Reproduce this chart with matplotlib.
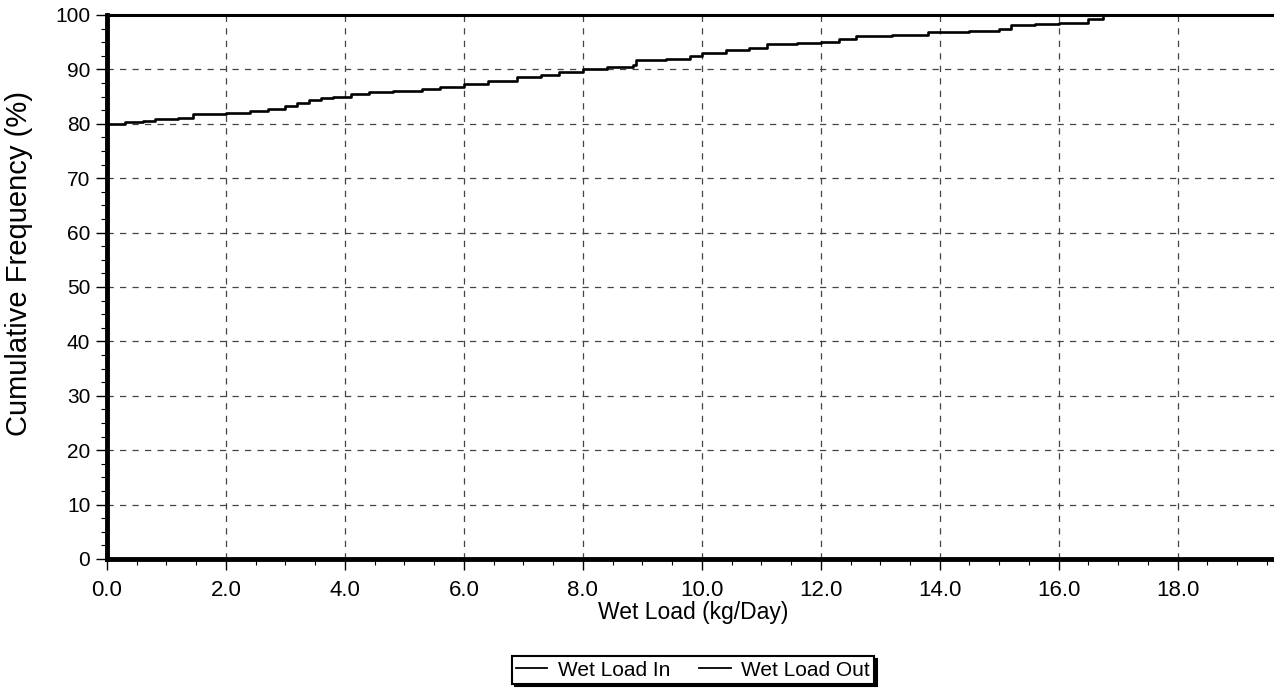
import matplotlib
matplotlib.use("Agg")
import matplotlib.pyplot as plt
from matplotlib.ticker import MultipleLocator, FormatStrFormatter

# Cumulative frequency of daily wet load (kg/Day)
load_out_kg = [0.0, 0.3, 0.6, 0.8, 1.2, 1.45, 2.0, 2.4, 2.7, 3.0, 3.2, 3.4,
               3.6, 3.8, 4.1, 4.4, 4.8, 5.3, 5.6, 6.0, 6.4, 6.9, 7.3, 7.6,
               8.0, 8.4, 8.85, 8.9, 9.4, 9.8, 10.0, 10.4, 10.8, 11.1, 11.6,
               12.0, 12.3, 12.6, 13.2, 13.8, 14.5, 15.0, 15.2, 15.6, 16.0,
               16.5, 16.75, 19.7]
load_out_pct = [80.0, 80.3, 80.6, 80.8, 81.0, 81.8, 82.0, 82.4, 82.7, 83.2,
                83.8, 84.4, 84.7, 85.0, 85.5, 85.9, 86.1, 86.4, 86.8, 87.4,
                87.9, 88.6, 89.0, 89.5, 90.0, 90.4, 90.8, 91.7, 92.0, 92.4,
                93.0, 93.5, 94.0, 94.6, 94.8, 95.0, 95.5, 96.1, 96.4, 96.8,
                97.1, 97.4, 98.2, 98.4, 98.6, 99.2, 100.0, 100.0]

load_in_kg = [0.0, 0.0, 19.7]
load_in_pct = [0.0, 100.0, 100.0]

x_ticks = [0, 2, 4, 6, 8, 10, 12, 14, 16, 18]
y_ticks = [0, 10, 20, 30, 40, 50, 60, 70, 80, 90, 100]

plt.rcParams["font.family"] = ["Liberation Sans", "DejaVu Sans"]

fig = plt.figure(figsize=(12.74, 6.90), dpi=100)
ax = fig.add_axes([107 / 1274, 131 / 690, 1 - 107 / 1274, (559 - 15) / 690])

ax.plot(load_in_kg, load_in_pct, color="black", lw=2.2,
        drawstyle="steps-post", label="Wet Load In", clip_on=False, zorder=3)
ax.plot(load_out_kg, load_out_pct, color="black", lw=1.9,
        drawstyle="steps-post", label="Wet Load Out", zorder=3)

ax.set_xlim(0, 19.62)
ax.set_ylim(0, 100)
ax.set_xticks(x_ticks)
ax.set_yticks(y_ticks)
ax.xaxis.set_major_formatter(FormatStrFormatter("%.1f"))
ax.xaxis.set_minor_locator(MultipleLocator(0.5))
ax.yaxis.set_minor_locator(MultipleLocator(2.5))

ax.grid(True, which="major", color="#444444", lw=0.9, ls=(0, (5, 5)))
ax.set_axisbelow(True)

for side in ("top", "right"):
    ax.spines[side].set_visible(False)
ax.spines["left"].set_linewidth(3.5)
ax.spines["bottom"].set_linewidth(3.5)

ax.tick_params(axis="both", which="major", length=8, width=1.0,
               direction="out", labelsize=15, colors="black")
ax.tick_params(axis="x", which="major", labelsize=16, pad=7)
ax.tick_params(axis="y", which="major", pad=4)
ax.tick_params(axis="both", which="minor", length=4, width=0.8,
               direction="out")

ax.set_xlabel("Wet Load (kg/Day)", fontsize=16.5)
ax.xaxis.set_label_coords(0.502, -0.077)
ax.set_ylabel("Cumulative Frequency (%)", fontsize=21)
ax.yaxis.set_label_coords(-0.063, 0.544)

leg = fig.legend(loc="center", bbox_to_anchor=(693 / 1274, 1 - 670 / 690),
                 ncol=2, fontsize=15, frameon=True, fancybox=False,
                 edgecolor="black", handlelength=1.5, handletextpad=0.5,
                 columnspacing=1.4, borderpad=0.2,
                 shadow={"facecolor": "black", "edgecolor": "black",
                         "alpha": 1.0})
leg.get_frame().set_linewidth(1.5)
for line in leg.get_lines():
    line.set_linewidth(1.3)

fig.savefig("out.png", dpi=100, facecolor="white")
